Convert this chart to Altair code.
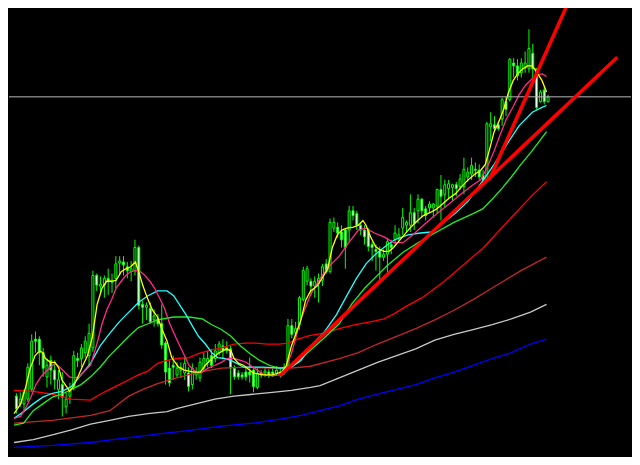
import altair as alt
import pandas as pd

# ---- candles (bar index, prices) ----
open_ = [63, 55, 55, 60, 70, 122, 122, 108, 83, 100,
         90, 70, 75, 52, 63, 73, 102, 102, 108, 105,
         113, 188, 177, 178, 185, 181, 185, 201, 202, 197,
         192, 193, 217, 158, 155, 154, 142, 143, 138, 118,
         92, 95, 85, 90, 87, 87, 75, 85, 82, 92,
         98, 105, 102, 108, 115, 113, 112, 92, 87, 85,
         88, 88, 90, 72, 87, 87, 88, 88, 87, 85,
         87, 95, 136, 129, 137, 163, 182, 182, 177, 180,
         183, 200, 192, 237, 238, 233, 235, 235, 255, 252,
         240, 235, 235, 220, 215, 213, 207, 210, 220, 225,
         227, 237, 240, 240, 253, 255, 267, 257, 258, 258,
         260, 277, 272, 278, 279, 282, 280, 280, 290, 293,
         298, 297, 292, 287, 342, 344, 344, 350, 368, 370,
         408, 405, 398, 403, 402, 418, 402, 368, 380, 368]
close = [50, 60, 67, 93, 120, 120, 108, 92, 95, 90,
         80, 80, 62, 60, 72, 105, 100, 113, 120, 128,
         188, 178, 179, 185, 182, 183, 200, 203, 199, 193,
         195, 217, 157, 155, 157, 140, 146, 138, 116, 88,
         77, 93, 92, 93, 97, 73, 92, 88, 98, 102,
         102, 95, 110, 117, 110, 110, 92, 83, 83, 83,
         83, 85, 73, 87, 85, 89, 85, 86, 90, 88,
         92, 136, 127, 133, 165, 193, 195, 177, 182, 185,
         197, 192, 243, 243, 232, 225, 217, 255, 250, 240,
         235, 228, 218, 217, 213, 207, 210, 223, 217, 232,
         230, 248, 243, 253, 242, 267, 255, 250, 262, 262,
         277, 270, 282, 283, 282, 278, 288, 298, 295, 302,
         297, 290, 287, 345, 345, 340, 340, 370, 360, 412,
         405, 395, 408, 408, 423, 402, 362, 378, 368, 373]
high = [66, 67, 70, 97, 127, 130, 125, 113, 102, 105,
        100, 90, 88, 67, 77, 110, 108, 117, 125, 138,
        193, 190, 187, 188, 195, 190, 208, 208, 208, 202,
        203, 225, 219, 162, 160, 160, 153, 148, 158, 120,
        100, 105, 98, 98, 103, 93, 97, 93, 103, 108,
        110, 112, 117, 120, 122, 120, 115, 95, 90, 88,
        93, 103, 92, 92, 90, 93, 91, 92, 94, 93,
        97, 143, 143, 140, 167, 197, 198, 185, 187, 190,
        200, 205, 247, 248, 243, 240, 237, 260, 260, 255,
        243, 240, 237, 223, 220, 218, 215, 227, 225, 240,
        237, 258, 245, 272, 258, 272, 268, 260, 265, 263,
        278, 292, 287, 287, 283, 285, 293, 310, 300, 310,
        305, 303, 297, 347, 357, 353, 348, 372, 373, 413,
        413, 412, 413, 420, 443, 428, 402, 380, 383, 375]
low = [45, 52, 48, 57, 67, 108, 95, 83, 72, 75,
       70, 60, 42, 45, 55, 69, 93, 93, 103, 95,
       109, 172, 168, 165, 168, 170, 175, 188, 188, 185,
       182, 188, 153, 138, 142, 138, 135, 135, 112, 75,
       73, 80, 82, 82, 80, 68, 70, 80, 78, 88,
       93, 92, 98, 105, 102, 107, 65, 80, 80, 80,
       79, 77, 67, 70, 82, 83, 82, 83, 84, 82,
       85, 93, 123, 125, 132, 161, 178, 167, 165, 160,
       177, 190, 190, 233, 227, 217, 195, 223, 245, 235,
       230, 220, 213, 203, 193, 180, 203, 187, 210, 220,
       223, 230, 233, 233, 235, 242, 248, 245, 253, 248,
       252, 245, 258, 267, 265, 270, 277, 272, 285, 287,
       290, 287, 283, 285, 327, 337, 338, 343, 353, 368,
       393, 390, 393, 398, 398, 390, 360, 367, 365, 367]
bars = list(range(len(open_)))

# ---- moving averages (bar, price) ----
yellow_bar = [-0.6, 1.1, 2.4, 3.6, 4.9, 6.1, 6.9, 7.6, 8.9, 10.1, 11.1, 11.9, 13.1, 13.9, 14.9, 16.1, 17.4, 18.6, 19.9, 21.1,
              22.4, 23.6, 24.9, 26.1, 27.4, 28.6, 29.9, 31.1, 31.9, 33.1, 34.4, 35.6, 36.9, 38.1, 39.4, 40.6, 42.4, 43.9, 46.4, 48.1,
              49.4, 50.6, 52.6, 54.9, 56.1, 56.9, 58.1, 59.4, 61.9, 64.4, 66.9, 69.4, 70.6, 71.9, 73.1, 74.4, 75.6, 76.9, 78.6, 79.9,
              81.4, 82.6, 83.9, 85.1, 86.4, 88.1, 89.4, 90.6, 91.4, 92.6, 93.9, 94.9, 96.1, 97.4, 98.6, 99.9, 101.4, 103.1, 104.9, 106.4,
              108.1, 109.9, 111.4, 113.1, 114.9, 116.4, 118.1, 119.9, 121.4, 122.6, 123.6, 124.9, 126.1, 127.4, 128.6, 129.9, 131.1, 132.4, 133.6, 134.9,
              136.1, 137.4, 138.6]
yellow_val = [45, 55, 72, 92, 105, 110, 108, 102, 98, 98, 92, 80, 73, 68, 73, 83, 95, 105, 125, 158,
              175, 182, 182, 183, 192, 195, 197, 202, 193, 177, 163, 152, 145, 132, 120, 103, 93, 90, 88, 88,
              95, 100, 107, 112, 110, 102, 97, 95, 87, 85, 85, 88, 95, 115, 128, 142, 162, 172, 177, 185,
              195, 217, 230, 235, 237, 238, 240, 245, 240, 228, 218, 215, 213, 213, 217, 223, 230, 238, 245, 250,
              253, 257, 262, 268, 273, 280, 287, 293, 297, 303, 317, 337, 347, 360, 377, 390, 397, 402, 405, 405,
              398, 390, 378]

pink_bar = [-0.6, 1.1, 2.6, 3.9, 5.1, 6.4, 7.6, 8.9, 10.1, 11.4, 12.6, 13.9, 15.1, 16.4, 17.6, 19.4, 21.1, 22.4, 23.6, 24.9,
            26.1, 27.4, 28.6, 29.9, 31.1, 32.4, 33.6, 34.9, 36.1, 37.4, 38.6, 40.1, 41.9, 43.6, 45.1, 46.9, 48.6, 50.1, 51.9, 53.6,
            55.1, 56.9, 58.6, 60.1, 61.9, 63.6, 65.1, 66.9, 68.6, 70.1, 71.9, 74.4, 76.9, 79.4, 81.9, 84.4, 86.9, 89.4, 91.4, 93.6,
            96.1, 98.6, 101.1, 103.6, 106.4, 109.9, 113.1, 116.4, 119.4, 121.4, 123.1, 124.9, 126.4, 128.1, 129.9, 131.4, 133.1, 134.9, 136.1, 137.4,
            138.6]
pink_val = [40, 42, 52, 63, 75, 83, 88, 93, 97, 93, 88, 83, 82, 83, 88, 95, 118, 138, 152, 163,
            175, 182, 188, 192, 193, 192, 188, 182, 175, 165, 155, 138, 122, 108, 95, 88, 88, 92, 95, 98,
            102, 102, 100, 98, 93, 88, 85, 84, 85, 90, 107, 143, 168, 185, 198, 208, 222, 235, 237, 232,
            228, 222, 222, 230, 240, 252, 262, 273, 282, 287, 300, 317, 333, 350, 363, 375, 385, 392, 395, 397,
            394]

cyan_bar = [-0.6, 1.9, 4.4, 6.9, 9.4, 11.9, 14.4, 16.9, 19.4, 21.9, 24.4, 26.9, 29.4, 31.9, 34.4, 36.9, 39.4, 41.1, 42.6, 44.4,
            46.1, 47.6, 49.4, 51.1, 52.6, 54.4, 56.1, 57.6, 59.4, 64.4, 69.4, 71.9, 74.4, 77.6, 80.6, 83.6, 86.1, 88.9, 91.4, 93.9,
            96.4, 98.9, 102.4, 105.6, 108.6, 111.4, 114.9, 118.1, 121.4, 124.9, 128.1, 131.4, 134.9, 137.4, 138.6]
cyan_val = [40, 47, 55, 62, 66, 68, 73, 85, 97, 115, 128, 140, 150, 160, 167, 172, 172, 167, 158, 147,
            135, 125, 117, 108, 103, 102, 100, 97, 93, 93, 92, 93, 100, 118, 130, 147, 165, 185, 200, 210,
            218, 225, 230, 232, 233, 242, 253, 265, 283, 303, 323, 343, 357, 362, 364]

green_bar = [-0.6, 1.9, 4.4, 6.9, 9.4, 11.9, 14.4, 16.9, 19.4, 21.9, 24.4, 26.9, 29.4, 31.9, 34.4, 36.9, 41.1, 45.1, 48.6, 51.1,
             53.6, 56.1, 58.6, 61.1, 63.6, 66.1, 68.6, 70.6, 73.1, 76.1, 80.1, 84.4, 87.6, 91.1, 93.6, 96.9, 101.1, 105.1, 109.4, 114.4,
             119.4, 121.9, 124.4, 126.9, 129.4, 131.9, 134.4, 136.9, 138.6]
green_val = [33, 35, 48, 55, 62, 65, 70, 75, 83, 93, 105, 115, 125, 134, 138, 142, 145, 145, 143, 137,
             132, 125, 115, 107, 100, 95, 92, 93, 97, 108, 122, 138, 158, 175, 185, 198, 212, 222, 232, 243,
             252, 257, 267, 278, 290, 303, 315, 328, 337]

red_bar = [-0.6, 4.4, 9.4, 14.4, 19.4, 21.9, 24.4, 26.9, 29.4, 31.9, 34.4, 36.9, 39.4, 41.9, 45.1, 47.6, 50.1, 53.6, 56.9, 60.1,
           62.6, 65.6, 68.6, 71.1, 73.6, 76.9, 80.1, 84.4, 88.6, 92.6, 96.1, 98.6, 101.9, 106.1, 111.9, 116.9, 121.9, 129.4, 135.1, 138.6]
red_val = [69, 68, 65, 60, 59, 65, 70, 75, 80, 85, 89, 97, 100, 102, 103, 107, 110, 113, 117, 118,
           118, 117, 117, 118, 122, 126, 128, 133, 137, 140, 143, 148, 156, 165, 182, 199, 216, 248, 272, 285]

darkred_bar = [-0.6, 9.4, 19.4, 24.4, 29.4, 33.1, 36.9, 41.9, 47.6, 53.6, 60.1, 66.1, 71.9, 76.9, 84.4, 89.4, 94.4, 99.4, 104.4, 109.4,
               114.4, 119.4, 124.4, 131.9, 138.6]
darkred_val = [35, 38, 43, 48, 63, 70, 76, 82, 88, 92, 93, 92, 92, 94, 102, 108, 117, 125, 133, 142,
               152, 163, 175, 193, 207]

silver_bar = [-0.6, 4.4, 9.4, 14.4, 19.4, 24.4, 29.4, 34.4, 39.4, 41.9, 46.9, 51.9, 56.9, 61.9, 66.9, 71.9, 76.9, 79.4, 84.4, 89.4,
              94.4, 99.4, 104.4, 109.4, 114.4, 119.4, 124.4, 129.4, 134.4, 138.6]
silver_val = [15, 18, 23, 28, 34, 38, 42, 45, 47, 50, 55, 60, 63, 65, 67, 69, 72, 74, 82, 90,
              98, 105, 112, 121, 127, 132, 137, 143, 150, 158]

blue_bar = [-0.6, 9.4, 19.4, 29.4, 39.4, 44.4, 53.6, 61.9, 70.1, 74.4, 79.4, 84.4, 89.4, 94.4, 99.4, 104.4, 109.4, 114.4, 119.4, 124.4,
            129.4, 134.4, 138.6]
blue_val = [10, 12, 15, 20, 25, 27, 32, 35, 40, 43, 48, 53, 60, 65, 70, 75, 82, 88, 95, 102,
            108, 117, 122]

# ---- trend lines and horizontal level ----
trend_name = ["t1", "t1", "t2", "t2"]
trend_bar = [68.9, 157.1, 123.6, 144.2]
trend_val = [84, 414, 287, 470]
level_price = [373]

series_names = ["blue", "silver", "darkred", "red", "green", "cyan", "pink", "yellow"]
series_colors = ["#0000ff", "#c8c8c8", "#c02828", "#ff0000", "#22ee22", "#22ffff", "#ff2a8c", "#ffff00"]

candles = pd.DataFrame({"bar": bars, "open": open_, "high": high, "low": low, "close": close})

ma_parts = []
for name, b, v in [("blue", blue_bar, blue_val), ("silver", silver_bar, silver_val),
                   ("darkred", darkred_bar, darkred_val), ("red", red_bar, red_val),
                   ("green", green_bar, green_val), ("cyan", cyan_bar, cyan_val),
                   ("pink", pink_bar, pink_val), ("yellow", yellow_bar, yellow_val)]:
    ma_parts.append(pd.DataFrame({"series": name, "bar": b, "price": v}))
mas = pd.concat(ma_parts, ignore_index=True)

trends = pd.DataFrame({"line": trend_name, "bar": trend_bar, "price": trend_val})
level = pd.DataFrame({"price": level_price})

xs = alt.Scale(domain=[-0.625, 159.375], nice=False, zero=False)
ys = alt.Scale(domain=[0, 465], nice=False, zero=False)

wicks = alt.Chart(candles).mark_rule(color="#00ff00", strokeWidth=1).encode(
    x=alt.X("bar:Q", scale=xs, axis=None),
    y=alt.Y("low:Q", scale=ys, axis=None),
    y2="high:Q",
)
bodies = alt.Chart(candles).mark_bar(size=2, stroke="#00ff00", strokeWidth=1).encode(
    x=alt.X("bar:Q", scale=xs, axis=None),
    y=alt.Y("open:Q", scale=ys, axis=None),
    y2="close:Q",
    fill=alt.condition("datum.close < datum.open", alt.value("#ffffff"), alt.value("#000000")),
)
lines = alt.Chart(mas).mark_line(strokeWidth=1.3).encode(
    x=alt.X("bar:Q", scale=xs, axis=None),
    y=alt.Y("price:Q", scale=ys, axis=None),
    color=alt.Color("series:N", scale=alt.Scale(domain=series_names, range=series_colors), legend=None),
)
hline = alt.Chart(level).mark_rule(color="#b8b8b8", strokeWidth=1).encode(
    y=alt.Y("price:Q", scale=ys, axis=None),
)
tlines = alt.Chart(trends).mark_line(color="#ff0000", strokeWidth=3.5, clip=True).encode(
    x=alt.X("bar:Q", scale=xs, axis=None),
    y=alt.Y("price:Q", scale=ys, axis=None),
    detail="line:N",
)

chart = alt.layer(wicks, bodies, lines, hline, tlines).properties(
    width=624,
    height=449,
    autosize=alt.AutoSizeParams(type="fit", contains="padding"),
    padding=0,
    background="#000000",
).configure_view(strokeWidth=0)

chart.save("out.html", embed_options={"renderer": "svg", "actions": False})
